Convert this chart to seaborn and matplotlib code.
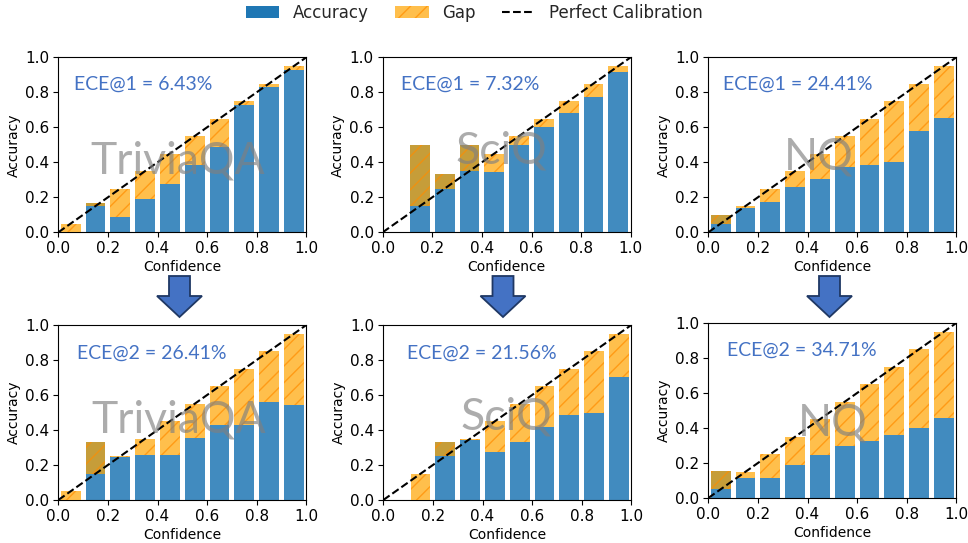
import numpy as np
import pandas as pd
import matplotlib
matplotlib.use("Agg")
import matplotlib.pyplot as plt
from matplotlib.patches import Patch, Polygon
from matplotlib.lines import Line2D
import seaborn as sns

# ---------------- data ----------------
bin_centers = [0.05, 0.15, 0.25, 0.35, 0.45, 0.55, 0.65, 0.75, 0.85, 0.95]
datasets = ["TriviaQA", "SciQ", "NQ"]

acc_triviaqa_1 = [0.0, 0.165, 0.085, 0.19, 0.275, 0.387, 0.49, 0.73, 0.83, 0.925]
acc_sciq_1 = [np.nan, 0.5, 0.333, 0.5, 0.343, 0.50, 0.604, 0.682, 0.775, 0.914]
acc_nq_1 = [0.097, 0.141, 0.171, 0.259, 0.305, 0.375, 0.385, 0.404, 0.577, 0.655]

acc_triviaqa_2 = [0.0, 0.333, 0.245, 0.257, 0.257, 0.354, 0.427, 0.427, 0.56, 0.543]
acc_sciq_2 = [np.nan, 0.0, 0.333, 0.345, 0.274, 0.333, 0.419, 0.486, 0.497, 0.705]
acc_nq_2 = [0.152, 0.113, 0.113, 0.187, 0.245, 0.298, 0.325, 0.361, 0.402, 0.459]

ece_labels = ["ECE@1 = 6.43%", "ECE@1 = 7.32%", "ECE@1 = 24.41%",
              "ECE@2 = 26.41%", "ECE@2 = 21.56%", "ECE@2 = 34.71%"]

tick_values = [0.0, 0.2, 0.4, 0.6, 0.8, 1.0]

# ---------------- style ----------------
sns.set_style("white")
plt.rcParams["font.family"] = ["DejaVu Sans"]
plt.rcParams["axes.edgecolor"] = "black"
plt.rcParams["xtick.color"] = "black"
plt.rcParams["ytick.color"] = "black"
plt.rcParams["axes.labelcolor"] = "black"
plt.rcParams["xtick.bottom"] = True
plt.rcParams["ytick.left"] = True
plt.rcParams["hatch.linewidth"] = 1.0

BLUE = "#1f77b4"
ORANGE = "#ffa500"
HATCH_C = "#ff8c00"
TEXT_BLUE = "#4472c4"

fig = plt.figure(figsize=(9.68, 5.43), dpi=100)
W, H = 968, 543

def px_axes(x0, x1, ytop, ybot):
    return fig.add_axes([x0 / W, 1 - ybot / H, (x1 - x0) / W, (ybot - ytop) / H])

axes_px = [
    (58.3, 306.3, 57.3, 232.3), (382.7, 630.7, 57.3, 232.3), (708.3, 956.3, 57.3, 232.3),
    (58.3, 306.3, 325.0, 500.0), (383.3, 631.3, 325.0, 500.0), (708.3, 956.3, 323.0, 498.0),
]
all_acc = [acc_triviaqa_1, acc_sciq_1, acc_nq_1, acc_triviaqa_2, acc_sciq_2, acc_nq_2]
names = datasets + datasets

# watermark baseline positions (axes data coords)
wm_pos = [(0.48, 0.337), (0.48, 0.394), (0.447, 0.356),
          (0.484, 0.383), (0.495, 0.40), (0.50, 0.358)]
ece_pos = [(0.063, 0.813), (0.074, 0.813), (0.058, 0.813),
           (0.077, 0.81), (0.094, 0.81), (0.076, 0.815)]

for i, (box, acc, name) in enumerate(zip(axes_px, all_acc, names)):
    ax = px_axes(*box)
    conf = np.array(bin_centers)
    acc = np.array(acc, dtype=float)
    valid = ~np.isnan(acc)
    df = pd.DataFrame({"conf": conf[valid], "acc": acc[valid]})
    sns.barplot(data=df, x="conf", y="acc", native_scale=True, width=0.8,
                color=BLUE, saturation=1, alpha=0.85, errorbar=None,
                linewidth=0, ax=ax, zorder=2)
    gaps = conf[valid] - acc[valid]
    ax.bar(conf[valid], gaps, bottom=acc[valid], width=0.08, color=ORANGE,
           alpha=0.7, hatch="//", edgecolor=HATCH_C, linewidth=0, zorder=3)
    ax.plot([0, 1], [0, 1], linestyle="--", color="black", linewidth=1.5, zorder=4)
    ax.set_xlim(0, 1)
    ax.set_ylim(0, 1)
    ax.set_xticks(tick_values)
    ax.set_yticks(tick_values)
    ax.set_xticklabels([f"{t:.1f}" for t in tick_values], fontsize=11)
    ax.set_yticklabels([f"{t:.1f}" for t in tick_values], fontsize=11)
    ax.tick_params(direction="out", length=3.5, width=0.8, pad=3)
    for s in ax.spines.values():
        s.set_visible(True)
        s.set_color("black")
        s.set_linewidth(0.8)
    ax.set_xlabel("Confidence", fontsize=10, labelpad=3)
    ax.set_ylabel("Accuracy", fontsize=10, labelpad=3)
    ax.text(wm_pos[i][0], wm_pos[i][1], name, fontsize=32, family="Lato",
            color="grey", alpha=0.65, ha="center", va="baseline", zorder=5)
    ax.text(ece_pos[i][0], ece_pos[i][1], ece_labels[i], fontsize=14, family="Lato",
            color=TEXT_BLUE, ha="left", va="baseline", zorder=6)

# arrows between rows
for cx in [179.5, 503.0, 829.5]:
    pts = [(cx - 10.5, 276), (cx + 10.5, 276), (cx + 10.5, 296), (cx + 22.5, 296),
           (cx, 317), (cx - 22.5, 296), (cx - 10.5, 296)]
    poly = Polygon([(x / W, 1 - y / H) for x, y in pts], closed=True,
                   transform=fig.transFigure, facecolor=TEXT_BLUE,
                   edgecolor="#1f3864", linewidth=1.3)
    fig.patches.append(poly)

handles = [Patch(facecolor=BLUE, edgecolor="none", label="Accuracy"),
           Patch(facecolor=ORANGE, alpha=0.7, hatch="//", edgecolor=HATCH_C,
                 linewidth=0, label="Gap"),
           Line2D([0], [0], linestyle="--", color="black", linewidth=1.5,
                  label="Perfect Calibration")]
fig.legend(handles=handles, loc="upper center", bbox_to_anchor=(0.49, 1.02),
           ncol=3, frameon=False, fontsize=12, columnspacing=1.6)

fig.savefig("out.png", dpi=100)
